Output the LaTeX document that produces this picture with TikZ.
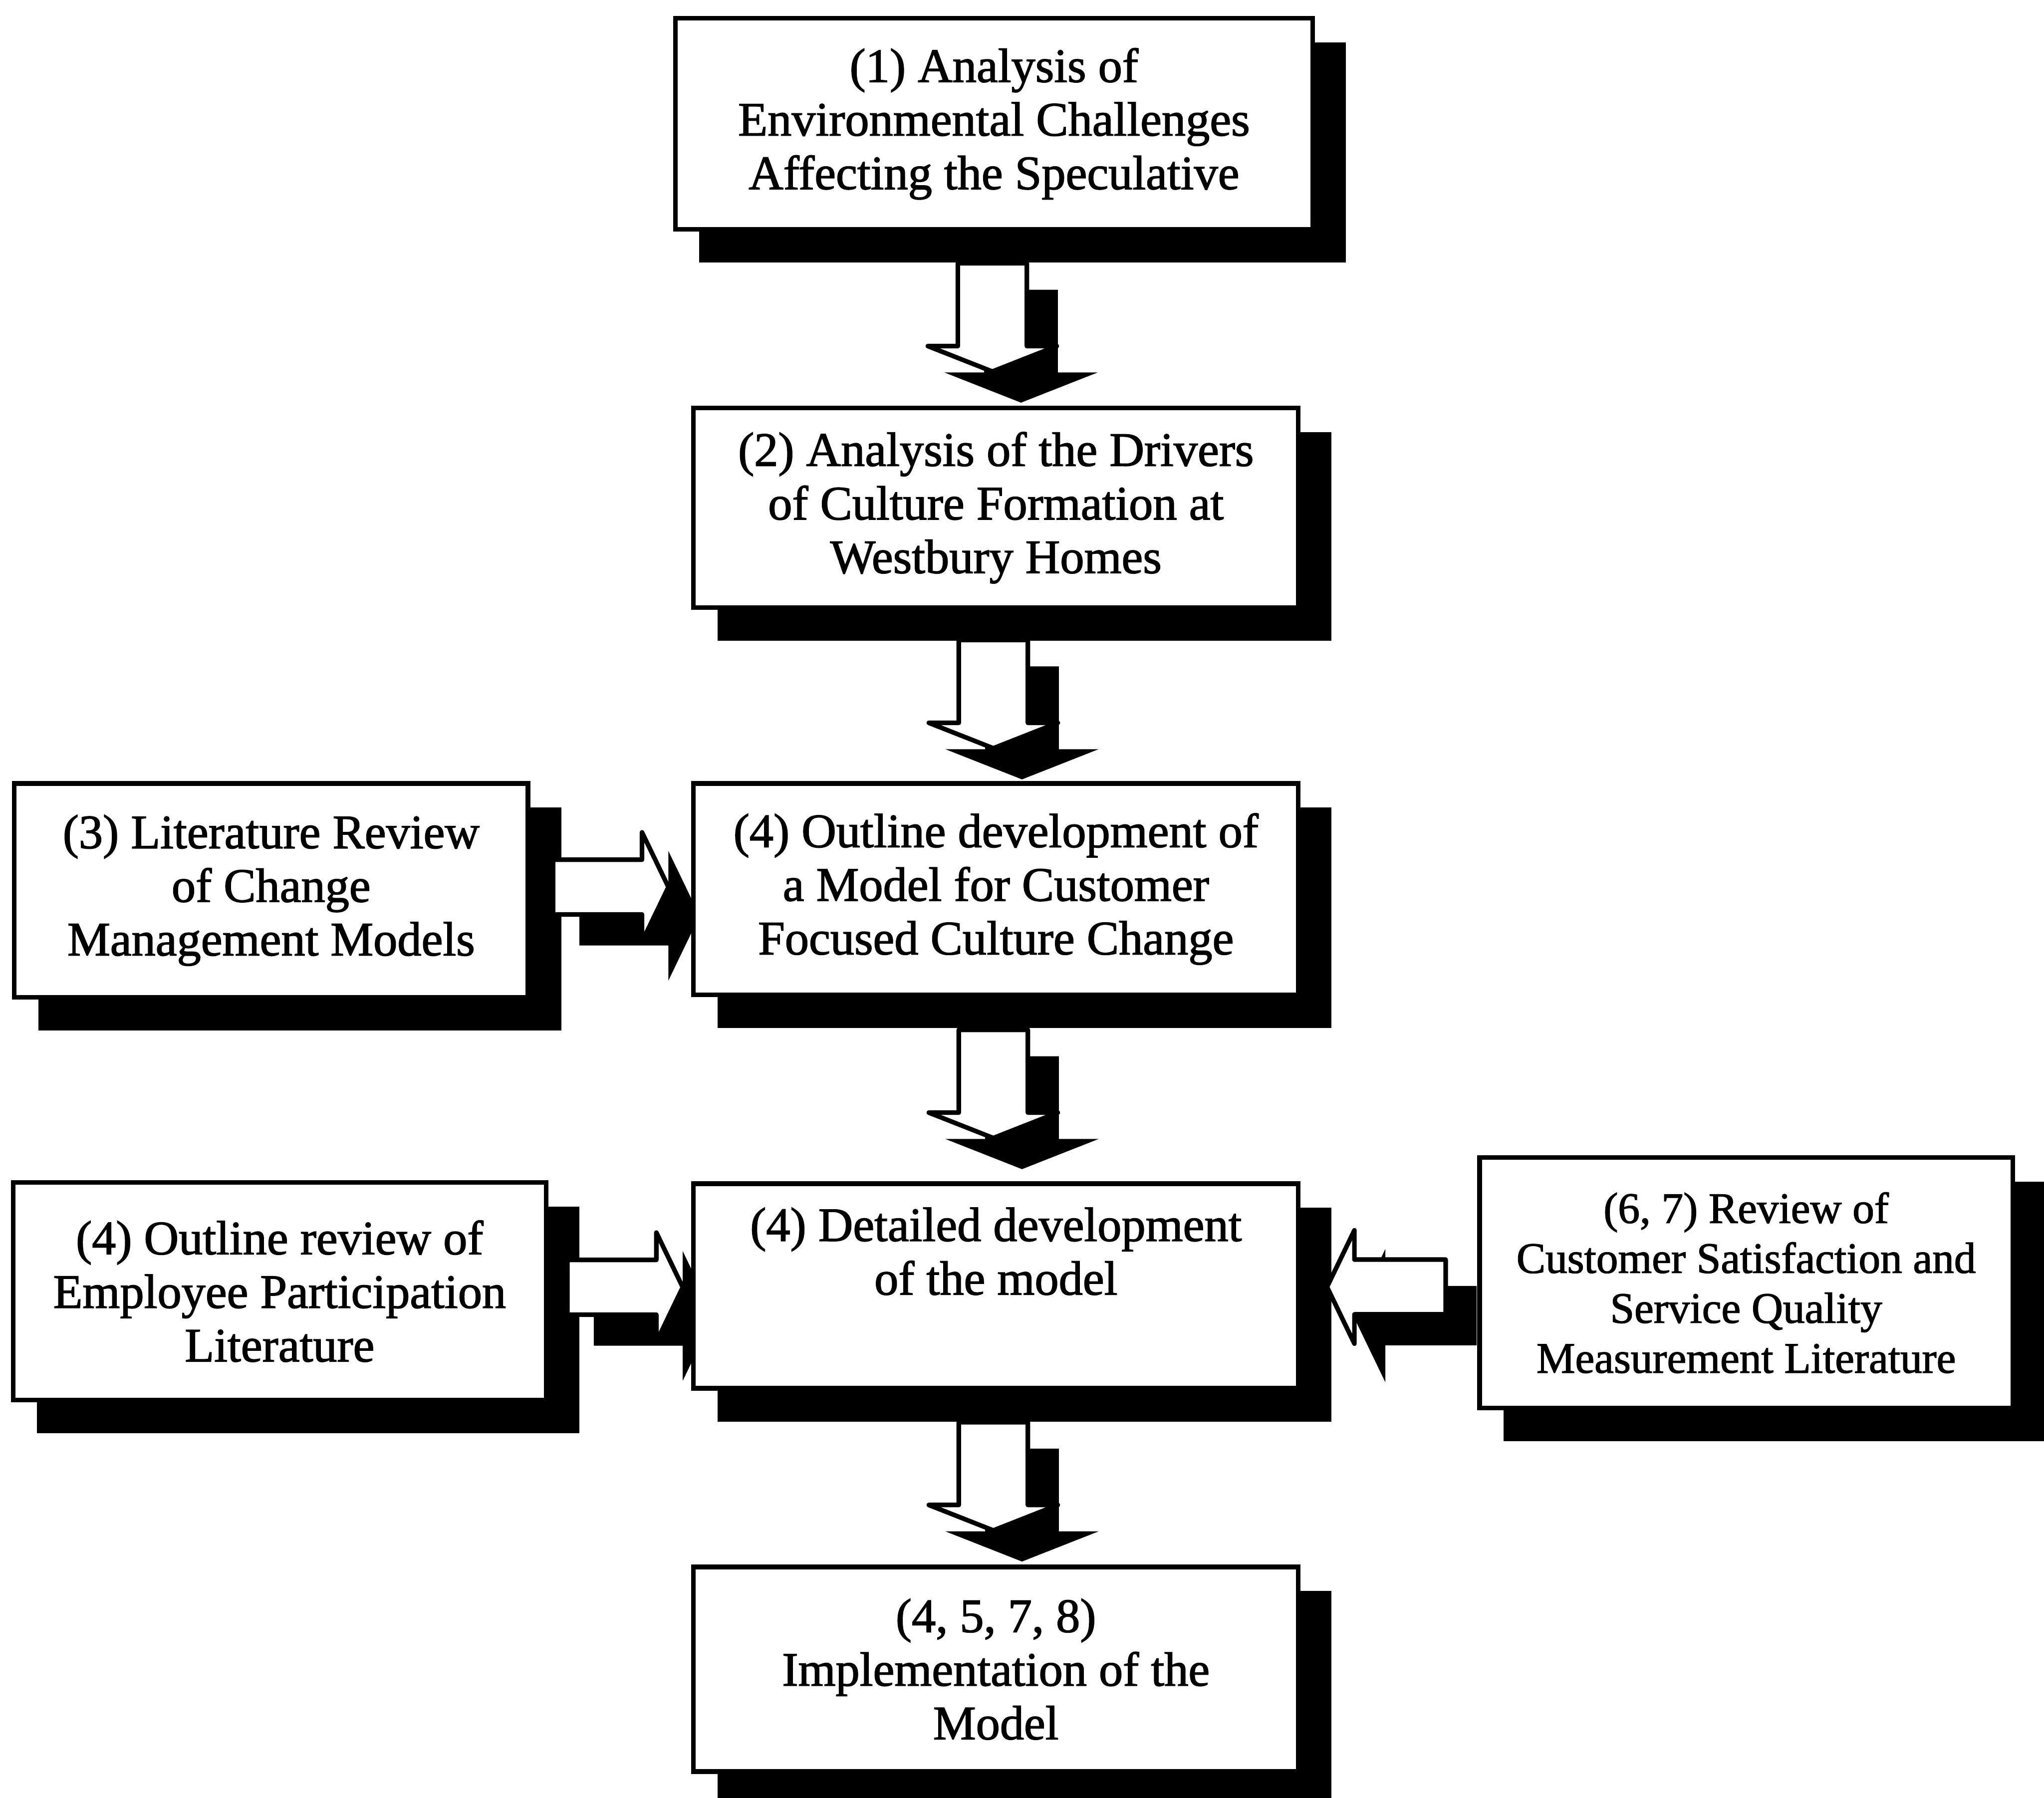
\documentclass[tikz,border=0pt]{standalone}
\usepackage{fontspec}
\newfontfamily\boxfont{Liberation Serif}[FakeBold=1.6]
\usetikzlibrary{calc}
\pgfdeclarelayer{shade}
\pgfsetlayers{shade,main}

\tikzset{
  stepbox/.style={draw=black,fill=white,line width=1pt,inner sep=0pt,align=center,
    font=\boxfont\fontsize{10.5}{11.7}\selectfont},
  smalltext/.style={font=\boxfont\fontsize{9.5}{10.9}\selectfont},
  % block arrow pointing right: half length, head base, body half width, head half width
  pics/blkarrow/.style n args={4}{code={
    \path[pic actions] (-#1,-#3) -- (#2,-#3) -- (#2,-#4) -- (#1,0) -- (#2,#4) -- (#2,#3) -- (-#1,#3) -- cycle;
  }},
}
% hollow block arrow with its black shadow
\newcommand\blockarrow[3]{%
  \begin{pgfonlayer}{shade}
  \pic[shift={(22,22)},rotate=#2,fill=black,draw=black,line width=1pt] at (#1) {blkarrow=#3};
  \end{pgfonlayer}
  \pic[rotate=#2,fill=white,draw=black,line width=1pt,line join=round] at (#1) {blkarrow=#3};
}

\begin{document}
\begin{tikzpicture}[x=0.1mm,y=-0.1mm]
\useasboundingbox (0,0) rectangle (1568,1379);

% boxes
\node[stepbox,minimum width=48.9mm,minimum height=16.2mm] (envchal) at (762.5,95)
  {(1) Analysis of\\Environmental Challenges\\Affecting the Speculative};
\node[stepbox,minimum width=46.4mm,minimum height=15.3mm] (drivers) at (764,389.5)
  {(2) Analysis of the Drivers\\of Culture Formation at\\Westbury Homes};
\node[stepbox,minimum width=39.4mm,minimum height=16.4mm] (litrev) at (208,683)
  {(3) Literature Review\\of Change\\Management Models};
\node[stepbox,minimum width=46.4mm,minimum height=16.2mm] (outline) at (764,682)
  {(4) Outline development of\\a Model for Customer\\Focused Culture Change};
\node[stepbox,minimum width=40.9mm,minimum height=16.7mm] (emppart) at (214.5,990.5)
  {(4) Outline review of\\Employee Participation\\Literature};
\node[stepbox,minimum width=46.4mm,minimum height=15.7mm] (detail) at (764,986.5)
  {(4) Detailed development\\of the model\\\strut};
\node[stepbox,smalltext,minimum width=40.9mm,minimum height=19.2mm] (custsat) at (1339.5,984)
  {(6, 7) Review of\\Customer Satisfaction and\\Service Quality\\Measurement Literature};
\node[stepbox,minimum width=46.4mm,minimum height=15.7mm] (implem) at (764,1280.5)
  {(4, 5, 7, 8)\\Implementation of the\\Model};

% shadows of the boxes
\begin{pgfonlayer}{shade}
\foreach \b in {envchal,drivers,litrev,outline,emppart,detail,custsat,implem}
  \filldraw[line width=1pt] ($(\b.south west)+(22,22)$) rectangle ($(\b.north east)+(22,22)$);
\end{pgfonlayer}

% arrows
\blockarrow{$(envchal.south)!.5!(drivers.north)+(-2,-1)$}{-90}{{41.5}{22}{26.5}{49.5}}
\blockarrow{$(drivers.south)!.5!(outline.north)+(-2,-1)$}{-90}{{41.5}{22}{26.5}{49.5}}
\blockarrow{$(outline.south)!.5!(detail.north)+(-2,-4)$}{-90}{{41.5}{22}{26.5}{49.5}}
\blockarrow{$(detail.south)!.5!(implem.north)+(-2,-1)$}{-90}{{41.5}{22}{26.5}{49.5}}
\blockarrow{$(litrev.east)!.5!(outline.west)+(0,-2)$}{0}{{44.25}{24}{21}{42}}
\blockarrow{$(emppart.east)!.5!(detail.west)+(4,-1)$}{0}{{44.25}{24}{21}{42}}
\blockarrow{$(custsat.west)!.5!(detail.east)+(-2,2)$}{180}{{45.5}{24.5}{21}{43.5}}
\end{tikzpicture}
\end{document}
